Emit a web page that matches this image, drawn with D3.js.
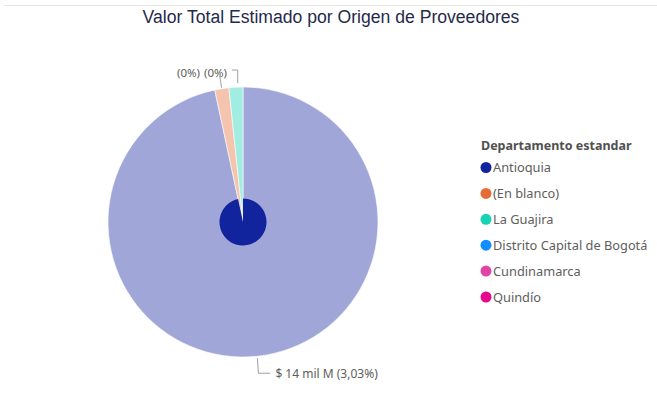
<!DOCTYPE html>
<html>
<head>
<meta charset="utf-8">
<script src="https://cdn.jsdelivr.net/npm/d3@7"></script>
<style>
  body { margin: 0; background: #fff; }
  svg { display: block; }
</style>
</head>
<body>
<svg id="chart" width="657" height="414"></svg>
<script>
// datos
const departamentos = ["Antioquia", "(En blanco)", "La Guajira", "Distrito Capital de Bogotá", "Cundinamarca", "Quindío"];
const colores = ["#12239E", "#E66C37", "#15D3B4", "#118DFF", "#E044A7", "#E6058C"];
const valores = [96.65, 1.68, 1.67, 0, 0, 0];          // porcion dibujada (%)
const resaltado = [0.0303, 0, 0, 0, 0, 0];             // fraccion resaltada
const etiquetas = ["$ 14 mil M (3,03%)", "(0%)", "(0%)", "", "", ""];

function drawPie(holder){
	let svg = d3.select(holder);
	let width = 657, height = 414;
	let cx = 243, cy = 222, r = 135;

	svg.append("line")
		.attr("x1", 4).attr("x2", width)
		.attr("y1", 5.5).attr("y2", 5.5)
		.attr("stroke", "#e6e6e6")
		.attr("stroke-width", 1);

	svg.append("text")
		.attr("x", 331)
		.attr("y", 23)
		.attr("text-anchor", "middle")
		.attr("font-family", "'Liberation Sans', Arial, sans-serif")
		.attr("font-size", 17.6)
		.attr("fill", "#252a4a")
		.text("Valor Total Estimado por Origen de Proveedores");

	let data = departamentos.map((d, i) => ({dep: d, value: valores[i], color: colores[i], hl: resaltado[i], label: etiquetas[i]}));

	const pie = d3.pie().sort(null).value(d => d.value);
	const arcs = pie(data).filter(a => a.data.value > 0);

	const arc = d3.arc().innerRadius(0).outerRadius(r);

	let g = svg.append("g").attr("transform", "translate(" + cx + "," + cy + ")");

	g.selectAll("path.slice")
		.data(arcs)
		.enter()
		.append("path")
		.attr("class", "slice")
		.attr("d", arc)
		.attr("fill", d => d.data.color)
		.attr("fill-opacity", 0.4)
		.attr("stroke", "#fff")
		.attr("stroke-width", 0.6);

	// parte resaltada: radio proporcional a la raiz de la fraccion
	g.selectAll("path.hl")
		.data(arcs.filter(a => a.data.hl > 0))
		.enter()
		.append("path")
		.attr("class", "hl")
		.attr("d", d => d3.arc().innerRadius(0).outerRadius(r * Math.sqrt(d.data.hl))(d))
		.attr("fill", d => d.data.color);

	// etiquetas con lineas guia
	const lab = svg.append("g")
		.attr("font-family", "'Noto Sans', 'Open Sans', sans-serif")
		.attr("fill", "#605E5C");

	function guide(pts){
		lab.append("path")
			.attr("d", d3.line()(pts))
			.attr("fill", "none")
			.attr("stroke", "#a0a0a0")
			.attr("stroke-width", 1);
	}

	let a0 = arcs[0], a1 = arcs[1], a2 = arcs[2];

	// Antioquia (abajo)
	let m0 = (a0.startAngle + a0.endAngle) / 2;
	let p0 = [cx + (r + 2) * Math.sin(m0), cy - (r + 2) * Math.cos(m0)];
	guide([p0, [p0[0] + 1, p0[1] + 15], [p0[0] + 13, p0[1] + 15]]);
	lab.append("text").attr("x", p0[0] + 18).attr("y", p0[1] + 20)
		.attr("font-size", 12).text(a0.data.label);

	// (En blanco)
	let m1 = (a1.startAngle + a1.endAngle) / 2;
	let p1 = [cx + (r + 1) * Math.sin(m1), cy - (r + 1) * Math.cos(m1)];
	guide([p1, [p1[0] - 2, p1[1] - 12]]);
	lab.append("text").attr("x", 200).attr("y", 77).attr("text-anchor", "end")
		.attr("font-size", 11.5).text(a1.data.label);

	// La Guajira
	let m2 = (a2.startAngle + a2.endAngle) / 2;
	let p2 = [cx + (r + 4) * Math.sin(m2) + 2, cy - (r + 4) * Math.cos(m2)];
	guide([p2, [p2[0], 70], [232, 70]]);
	lab.append("text").attr("x", 227).attr("y", 77).attr("text-anchor", "end")
		.attr("font-size", 11.5).text(a2.data.label);

	// leyenda
	let leg = svg.append("g")
		.attr("font-family", "'Noto Sans', 'Open Sans', sans-serif");

	leg.append("text")
		.attr("x", 481)
		.attr("y", 150)
		.attr("font-size", 12.5)
		.attr("font-weight", "bold")
		.attr("fill", "#505050")
		.text("Departamento estandar");

	let items = leg.selectAll("g.item")
		.data(data)
		.enter()
		.append("g")
		.attr("class", "item")
		.attr("transform", (d, i) => "translate(0," + (167.5 + i * 25.9) + ")");

	items.append("circle")
		.attr("cx", 486)
		.attr("cy", 0)
		.attr("r", 5.5)
		.attr("fill", d => d.color);

	items.append("text")
		.attr("x", 493)
		.attr("y", 4.5)
		.attr("font-size", 12.8)
		.attr("fill", "#605E5C")
		.text(d => d.dep);
}

drawPie("#chart");
</script>
</body>
</html>
